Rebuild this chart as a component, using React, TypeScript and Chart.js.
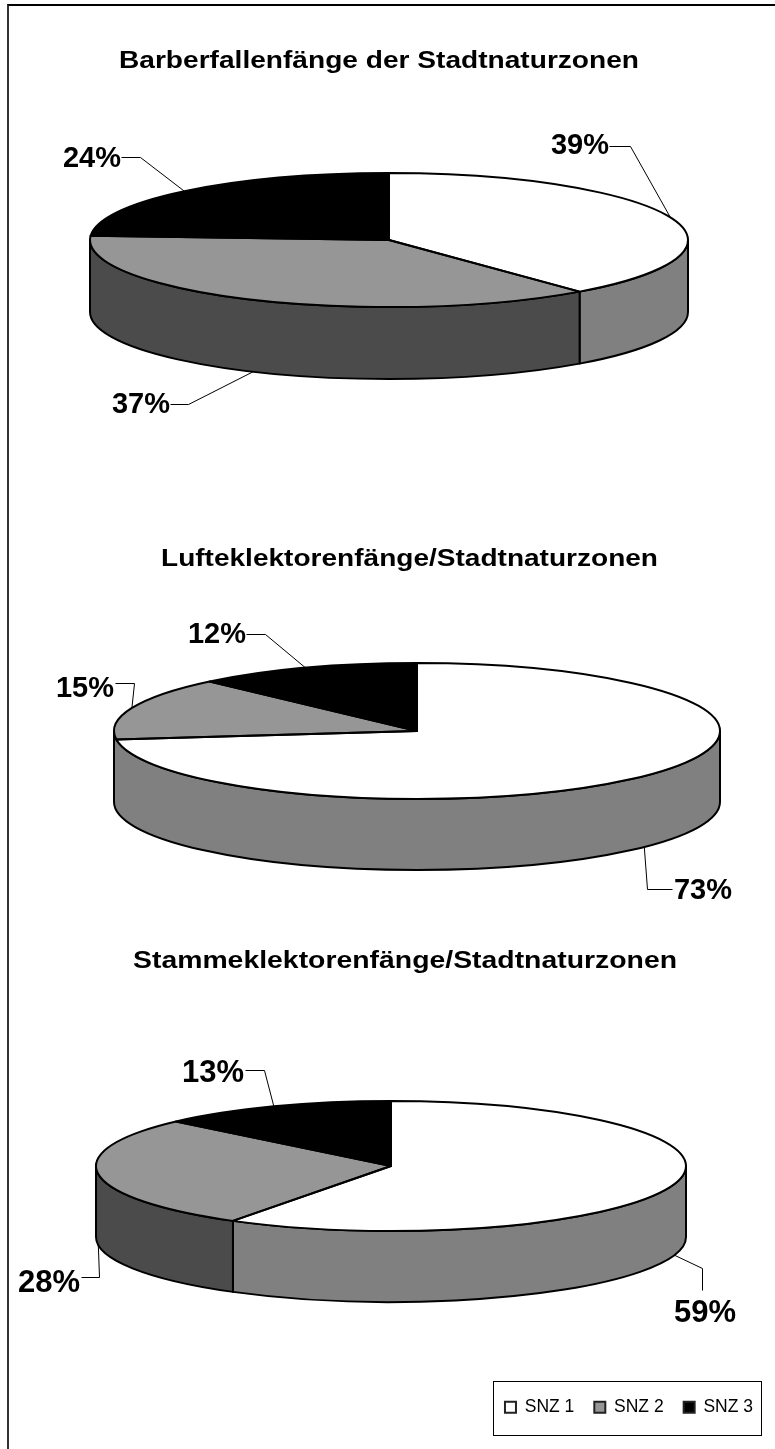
import React, { useEffect, useRef } from "react";
import { Chart, registerables } from "chart.js";

Chart.register(...registerables);

const FONT = "'Liberation Sans', Arial, sans-serif";

const zoneLabels = ["SNZ 1", "SNZ 2", "SNZ 3"];
const barberValues = [39, 37, 24];
const luftValues = [73, 15, 12];
const stammValues = [59, 28, 13];

const topColors = ["#ffffff", "#969696", "#000000"];
const sideColors = ["#808080", "#4b4b4b", "#000000"];

type Leader = { elbow: [number, number]; stub: [number, number]; text: [number, number] };
type Disc = { cx: number; cy: number; rx: number; ry: number; depth: number };

// Each panel is one pie chart on its own canvas; coordinates are canvas pixels.
const panels = [
  {
    title: { text: "Barberfallenfänge der Stadtnaturzonen", x: 379, y: 68, width: 520 },
    values: barberValues,
    top: 0,
    height: 500,
    labelSize: 29,
    disc: { cx: 389, cy: 240, rx: 299, ry: 67, depth: 72 },
    leaders: [
      { elbow: [630, 146], stub: [609, 146], text: [580, 146] },
      { elbow: [188, 404], stub: [170, 404], text: [141, 405] },
      { elbow: [140, 157], stub: [121, 157], text: [92, 159] },
    ] as Leader[],
    legend: false,
  },
  {
    title: { text: "Lufteklektorenfänge/Stadtnaturzonen", x: 409.5, y: 46, width: 497 },
    values: luftValues,
    top: 520,
    height: 400,
    labelSize: 29,
    disc: { cx: 417, cy: 211, rx: 303, ry: 68, depth: 71 },
    leaders: [
      { elbow: [647, 369], stub: [672, 369], text: [703, 371] },
      { elbow: [134, 163], stub: [115, 163], text: [85, 169] },
      { elbow: [265, 114], stub: [246, 114], text: [217, 115] },
    ] as Leader[],
    legend: false,
  },
  {
    title: { text: "Stammeklektorenfänge/Stadtnaturzonen", x: 405, y: 38, width: 544 },
    values: stammValues,
    top: 930,
    height: 515,
    labelSize: 31,
    disc: { cx: 391, cy: 236, rx: 295, ry: 65, depth: 71 },
    leaders: [
      { elbow: [702, 338], stub: [702, 360], text: [705, 383] },
      { elbow: [99, 347], stub: [81, 347], text: [49, 353] },
      { elbow: [264, 140], stub: [245, 140], text: [213, 143] },
    ] as Leader[],
    legend: true,
  },
];

// Rectangle round the legend, in the third panel's canvas pixels.
const legendFrame = { left: 493, top: 451, width: 268, height: 54 };

// A wall sliver narrower than this (radians) joins the slice before it.
const SLIVER = 0.15;

// Flattens the library's arcs into a tilted disc and adds the title, wall, rims and value labels.
const tiltedDisc = {
  id: "tiltedDisc",
  beforeDraw(chart: any, _args: any, opts: any) {
    const { ctx } = chart;
    const { text, x, y, width } = opts.title;
    ctx.save();
    ctx.fillStyle = "#000";
    ctx.font = `bold 23px ${FONT}`;
    ctx.textAlign = "center";
    ctx.textBaseline = "alphabetic";
    // The heading runs wider than the face's natural set width.
    ctx.translate(x, y);
    ctx.scale(width / ctx.measureText(text).width, 1);
    ctx.fillText(text, 0, 0);
    ctx.restore();

    if (!opts.showLegendFrame) return;
    ctx.save();
    ctx.strokeStyle = "#000";
    ctx.lineWidth = 1;
    ctx.strokeRect(legendFrame.left + 0.5, legendFrame.top + 0.5, legendFrame.width, legendFrame.height);
    ctx.restore();
  },
  beforeDatasetsDraw(chart: any, _args: any, opts: any) {
    const { ctx } = chart;
    const disc: Disc = opts.disc;
    const arcs = chart.getDatasetMeta(0).data;
    ctx.save();
    ctx.lineWidth = 2;
    ctx.strokeStyle = "#000";
    ctx.lineJoin = "round";
    arcs.forEach((arc: any, i: number) => {
      // Only the part of a slice facing the viewer (canvas angles 0..PI) shows a wall.
      const from = Math.max(arc.startAngle, 0);
      const to = arc.endAngle > Math.PI - SLIVER ? Math.PI : arc.endAngle;
      if (to <= from || from > Math.PI - SLIVER) return;
      ctx.beginPath();
      ctx.ellipse(disc.cx, disc.cy, disc.rx, disc.ry, 0, from, to);
      ctx.lineTo(disc.cx + disc.rx * Math.cos(to), disc.cy + disc.ry * Math.sin(to) + disc.depth);
      ctx.ellipse(disc.cx, disc.cy + disc.depth, disc.rx, disc.ry, 0, to, from, true);
      ctx.closePath();
      ctx.fillStyle = sideColors[i];
      ctx.fill();
      ctx.stroke();
    });
    ctx.restore();

    const first = arcs[0];
    ctx.save();
    ctx.translate(disc.cx, disc.cy);
    ctx.scale(disc.rx / first.outerRadius, disc.ry / first.outerRadius);
    ctx.translate(-first.x, -first.y);
  },
  afterDatasetsDraw(chart: any, _args: any, opts: any) {
    const { ctx } = chart;
    ctx.restore();
    const disc: Disc = opts.disc;
    const leaders: Leader[] = opts.leaders;
    const arcs = chart.getDatasetMeta(0).data;
    const values: number[] = chart.data.datasets[0].data;

    ctx.save();
    ctx.strokeStyle = "#000";
    ctx.lineWidth = 2;
    ctx.lineJoin = "round";
    arcs.forEach((arc: any) => {
      ctx.beginPath();
      ctx.moveTo(disc.cx, disc.cy);
      ctx.ellipse(disc.cx, disc.cy, disc.rx, disc.ry, 0, arc.startAngle, arc.endAngle);
      ctx.closePath();
      ctx.stroke();
    });

    ctx.lineWidth = 1;
    ctx.fillStyle = "#000";
    ctx.font = `bold ${opts.labelSize}px ${FONT}`;
    ctx.textAlign = "center";
    ctx.textBaseline = "middle";
    arcs.forEach((arc: any, i: number) => {
      const mid = (arc.startAngle + arc.endAngle) / 2;
      const sin = Math.sin(mid);
      const ax = disc.cx + disc.rx * Math.cos(mid);
      const ay = disc.cy + disc.ry * sin + (sin > 0 ? disc.depth : 0);
      const { elbow, stub, text } = leaders[i];
      ctx.beginPath();
      ctx.moveTo(ax, ay);
      ctx.lineTo(elbow[0] + 0.5, elbow[1] + 0.5);
      ctx.lineTo(stub[0] + 0.5, stub[1] + 0.5);
      ctx.stroke();
      ctx.fillText(`${values[i]}%`, text[0], text[1]);
    });
    ctx.restore();
  },
};

function PiePanel({ panel }: { panel: (typeof panels)[number] }) {
  const ref = useRef<HTMLCanvasElement>(null);
  useEffect(() => {
    const chart = new Chart(ref.current!, {
      type: "pie",
      data: {
        labels: zoneLabels,
        datasets: [
          {
            data: panel.values,
            backgroundColor: topColors,
            borderWidth: 0,
          },
        ],
      },
      options: {
        animation: false,
        responsive: false,
        devicePixelRatio: 1,
        layout: { padding: panel.legend ? { right: 2, bottom: 19 } : 0 },
        plugins: {
          tooltip: { enabled: false },
          title: { display: false },
          legend: {
            display: panel.legend,
            position: "bottom",
            align: "end",
            labels: {
              boxWidth: 11,
              boxHeight: 11,
              padding: 20,
              color: "#000",
              font: { family: FONT, size: 17.5 },
              generateLabels: () =>
                zoneLabels.map((text, i) => ({
                  text,
                  fillStyle: topColors[i],
                  strokeStyle: "#222",
                  lineWidth: 2,
                  fontColor: "#000",
                  index: i,
                  hidden: false,
                })),
            },
          },
          tiltedDisc: {
            title: panel.title,
            disc: panel.disc,
            leaders: panel.leaders,
            labelSize: panel.labelSize,
            showLegendFrame: panel.legend,
          },
        } as any,
      },
      plugins: [tiltedDisc],
    });
    return () => chart.destroy();
  }, [panel]);
  return (
    <canvas
      ref={ref}
      width={775}
      height={panel.height}
      style={{ position: "absolute", left: 0, top: panel.top, display: "block" }}
    />
  );
}

export default function App() {
  return (
    <div
      style={{
        position: "absolute",
        left: 0,
        top: 0,
        width: 775,
        height: 1449,
        overflow: "hidden",
        background: "#fff",
      }}
    >
      <div
        style={{
          position: "absolute",
          left: 7,
          top: 4,
          width: 780,
          height: 1460,
          borderLeft: "2px solid #333",
          borderTop: "2px solid #000",
        }}
      />
      {panels.map((p) => (
        <PiePanel key={p.title.text} panel={p} />
      ))}
    </div>
  );
}
